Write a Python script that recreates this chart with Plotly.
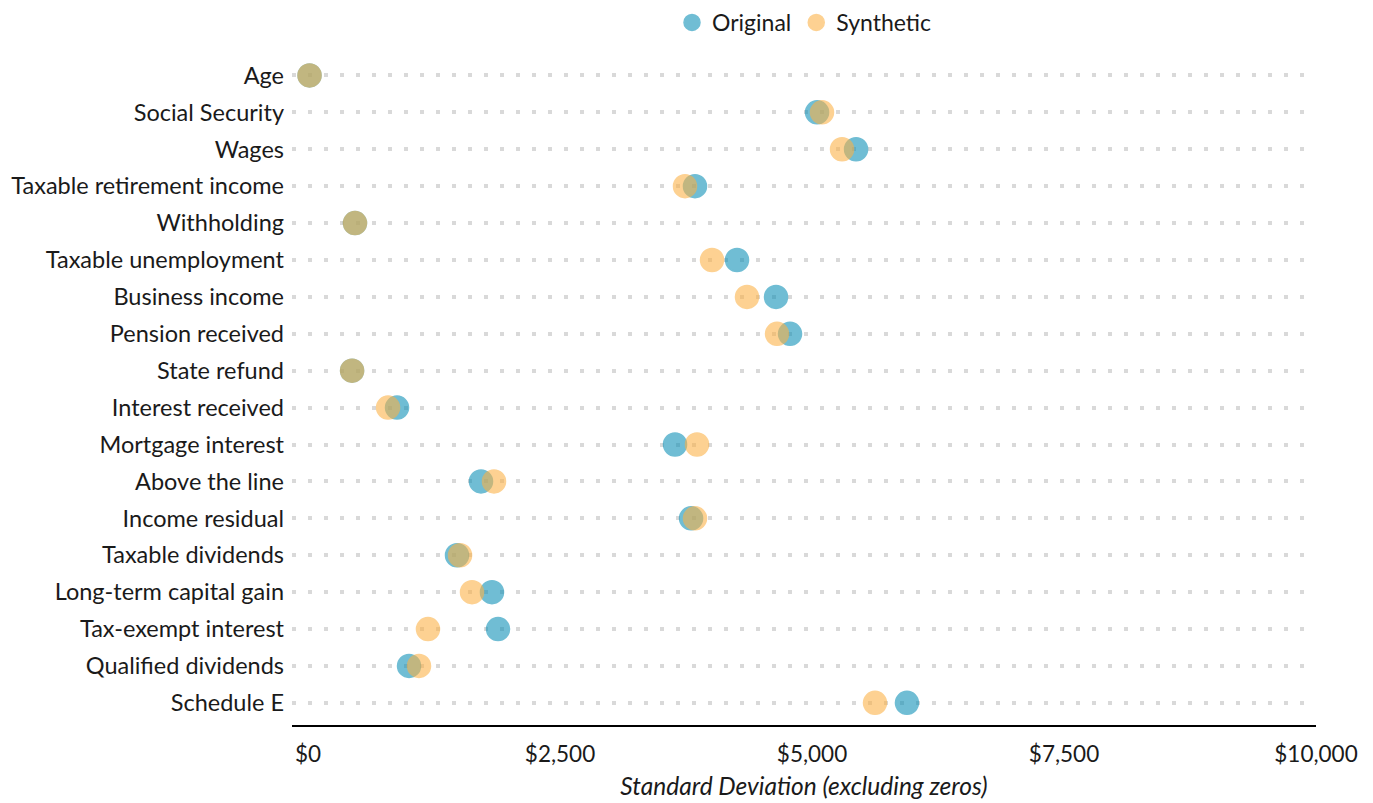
import plotly.graph_objects as go

categories = [
    "Age", "Social Security", "Wages", "Taxable retirement income", "Withholding",
    "Taxable unemployment", "Business income", "Pension received", "State refund",
    "Interest received", "Mortgage interest", "Above the line", "Income residual",
    "Taxable dividends", "Long-term capital gain", "Tax-exempt interest",
    "Qualified dividends", "Schedule E",
]
original = [15, 5050, 5437, 3839, 466, 4256, 4643, 4782, 437, 883, 3641, 1716,
            3800, 1478, 1825, 1885, 1002, 5942]
synthetic = [15, 5099, 5298, 3740, 466, 4008, 4355, 4653, 437, 794, 3859, 1845,
             3839, 1508, 1627, 1190, 1101, 5625]
tick_vals = [0, 2500, 5000, 7500, 10000]
tick_text = ["$0", "$2,500", "$5,000", "$7,500", "$10,000"]

FONT = "Lato, 'Noto Sans', sans-serif"

fig = go.Figure()
fig.add_trace(go.Scatter(
    x=original, y=categories, mode="markers", name="Original",
    marker=dict(size=23, color="#0a8fb6", opacity=0.58,
                line=dict(width=1.5, color="#0a8fb6")),
))
fig.add_trace(go.Scatter(
    x=synthetic, y=categories, mode="markers", name="Synthetic",
    marker=dict(size=23, color="#fcb144", opacity=0.58,
                line=dict(width=1.5, color="#fcb144")),
))

fig.update_layout(
    width=1373, height=803,
    margin=dict(l=284, r=65, t=49, b=86),
    paper_bgcolor="white", plot_bgcolor="white",
    font=dict(family=FONT, size=23, color="#1a1a1a"),
    legend=dict(orientation="h", x=0.5, xanchor="center", y=0.982, yanchor="middle",
                yref="container", font=dict(size=23), itemsizing="trace",
                traceorder="normal", itemwidth=30),
    showlegend=True,
)

fig.update_xaxes(
    range=[-159, 10000], tickvals=tick_vals, ticktext=tick_text,
    showgrid=False, zeroline=False, showline=True, linecolor="black", linewidth=2,
    ticks="", tickfont=dict(size=22.5), ticklabelstandoff=8, automargin=False,
    title=dict(text="<i>Standard Deviation (excluding zeros)</i>", font=dict(size=24.5),
               standoff=12),
)
fig.update_yaxes(
    categoryorder="array", categoryarray=categories,
    range=[17.6, -0.5], showgrid=True, gridcolor="#d9d9d9", gridwidth=4,
    griddash="4px,12px", zeroline=False, showline=False, ticks="",
    tickfont=dict(size=23.5), ticklabelstandoff=7, automargin=False,
)

fig.write_html("out.html")
